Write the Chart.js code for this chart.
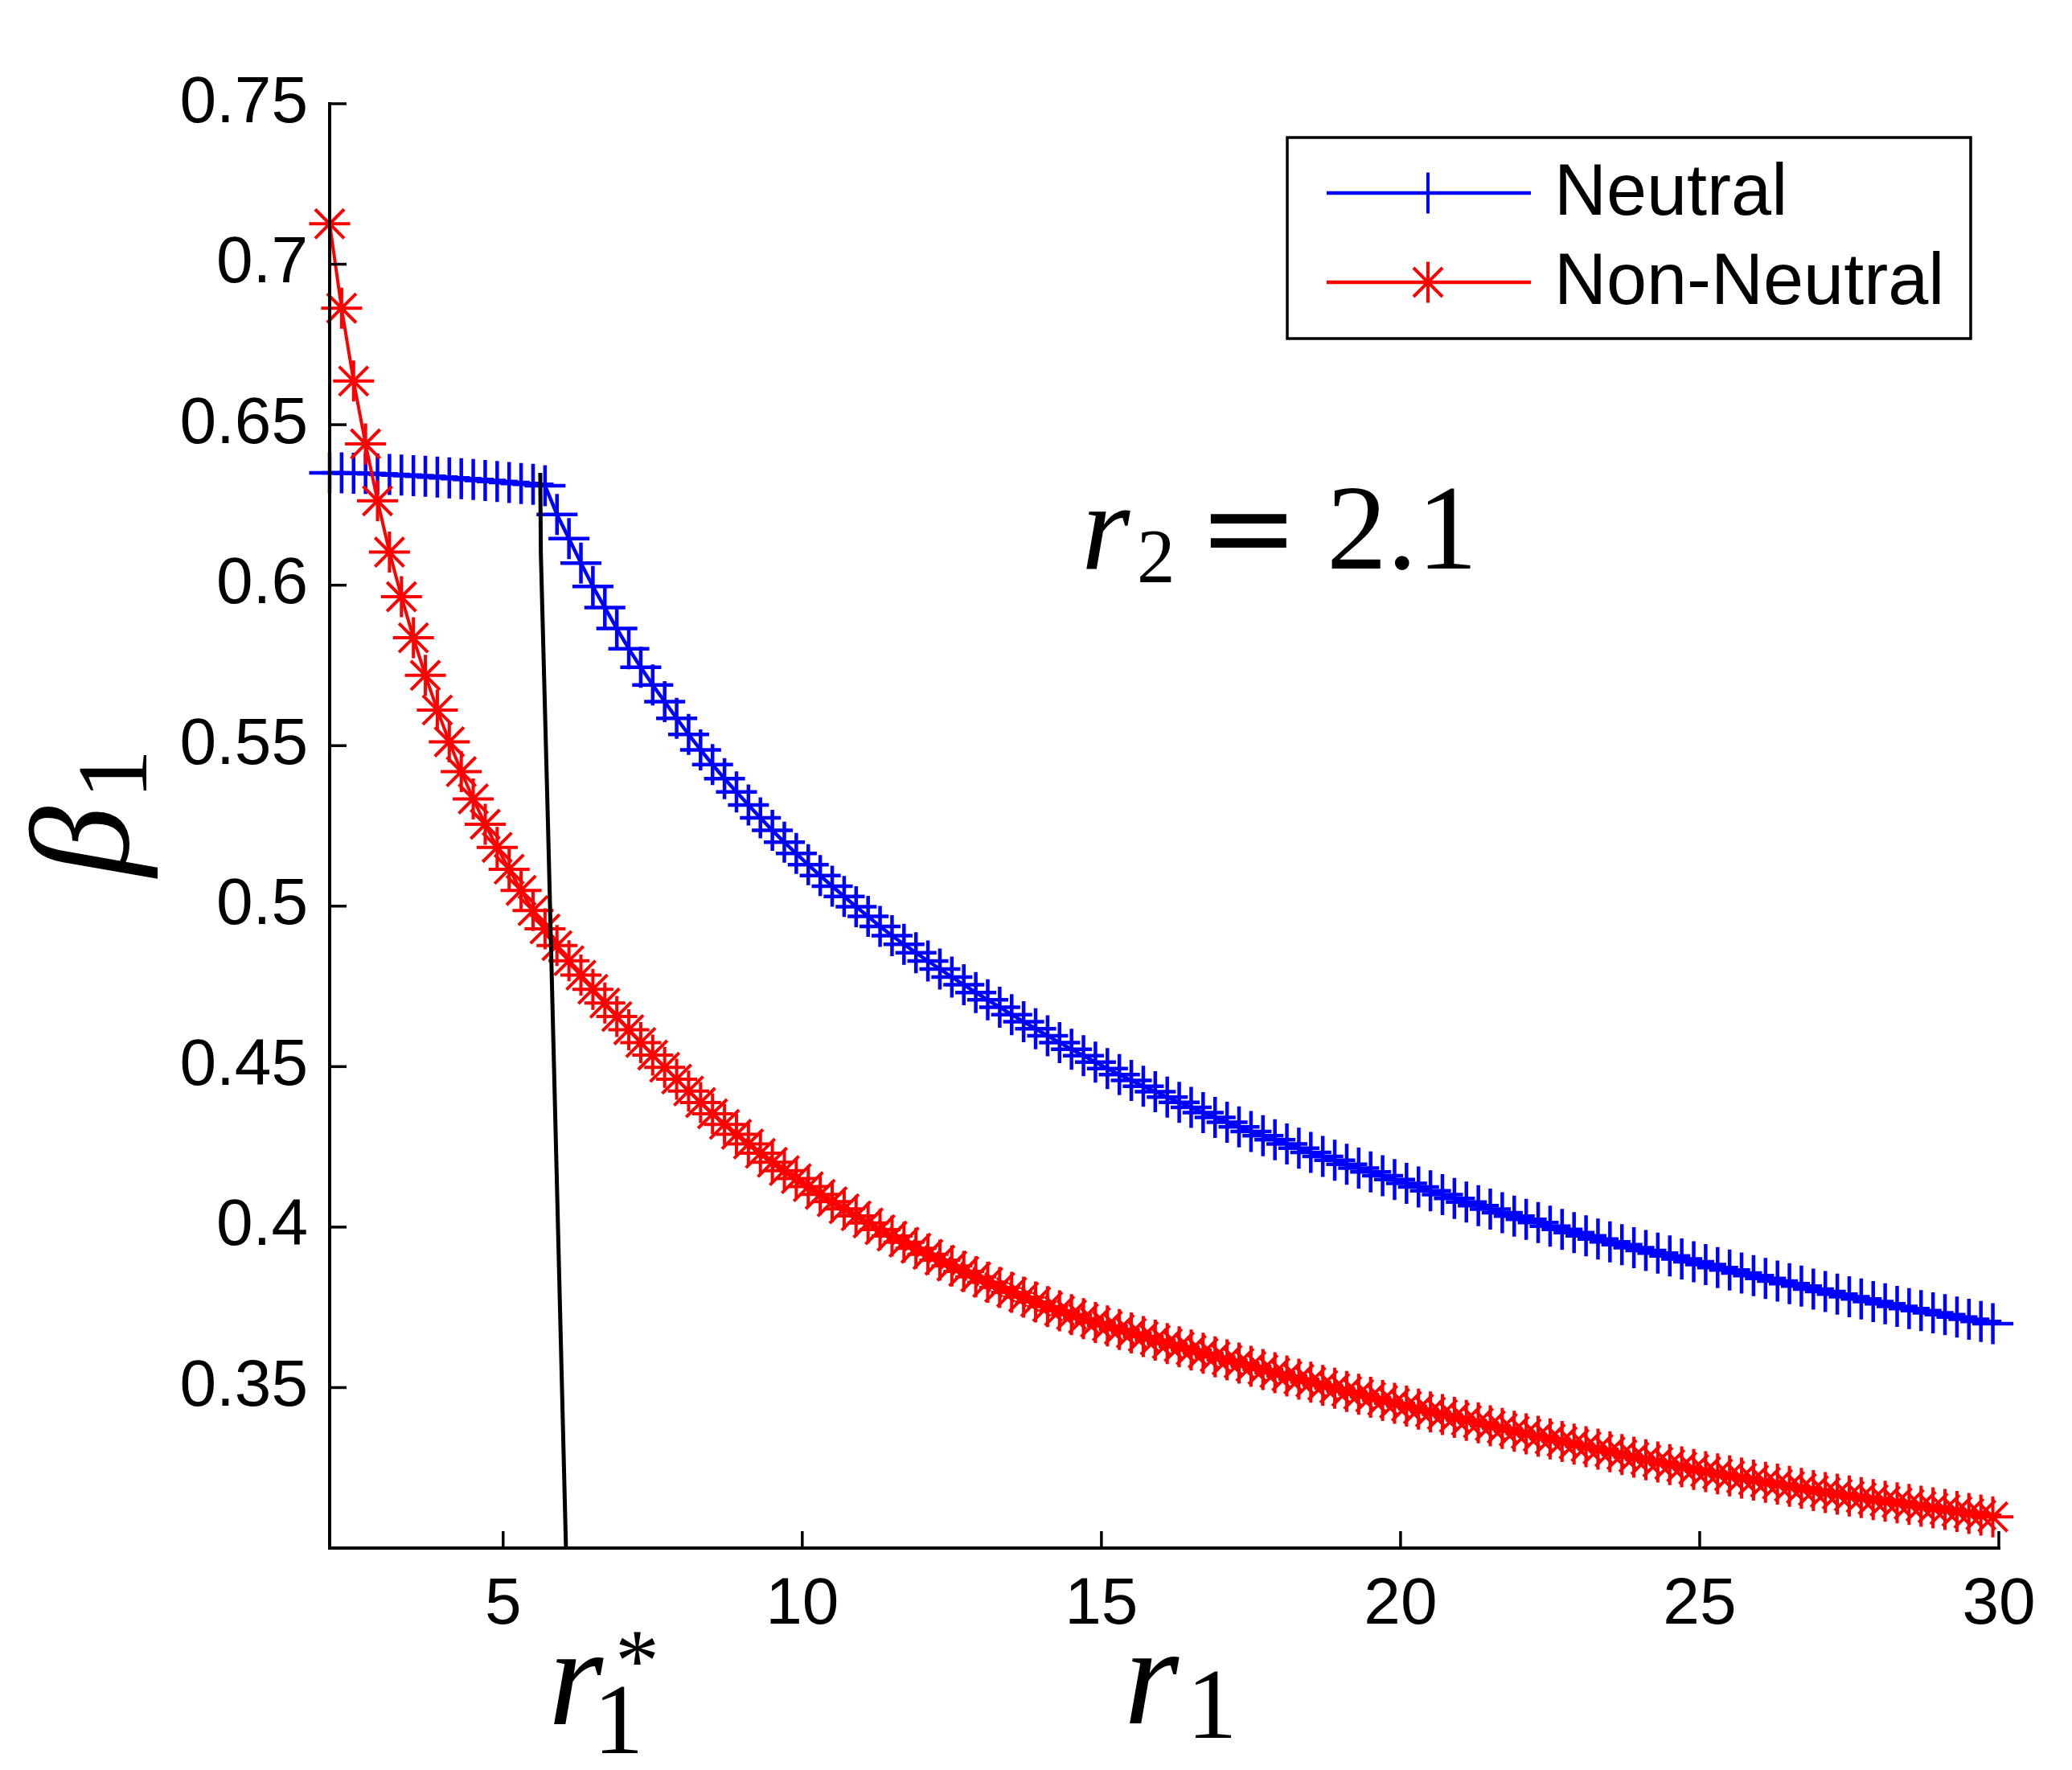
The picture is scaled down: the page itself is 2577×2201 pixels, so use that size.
<!DOCTYPE html>
<html>
<head>
<meta charset="utf-8">
<title>beta_1 vs r_1</title>
<script src="https://cdn.jsdelivr.net/npm/chart.js@4.4.1/dist/chart.umd.min.js"></script>
<style>
  html, body { margin: 0; padding: 0; background: #fff; }
  #wrap { width: 2577px; height: 2201px; }
</style>
</head>
<body>
<div id="wrap"><canvas id="betaChart" width="2577" height="2201"></canvas></div>
<script>
// r1 sample points (shared by both series)
const R1_VALUES = [
  2.1, 2.3, 2.5, 2.7, 2.9, 3.1, 3.3, 3.5, 3.7, 3.9,
  4.1, 4.3, 4.5, 4.7, 4.9, 5.1, 5.3, 5.5, 5.7, 5.9,
  6.1, 6.3, 6.5, 6.7, 6.9, 7.1, 7.3, 7.5, 7.7, 7.9,
  8.1, 8.3, 8.5, 8.7, 8.9, 9.1, 9.3, 9.5, 9.7, 9.9,
  10.1, 10.3, 10.5, 10.7, 10.9, 11.1, 11.3, 11.5, 11.7, 11.9,
  12.1, 12.3, 12.5, 12.7, 12.9, 13.1, 13.3, 13.5, 13.7, 13.9,
  14.1, 14.3, 14.5, 14.7, 14.9, 15.1, 15.3, 15.5, 15.7, 15.9,
  16.1, 16.3, 16.5, 16.7, 16.9, 17.1, 17.3, 17.5, 17.7, 17.9,
  18.1, 18.3, 18.5, 18.7, 18.9, 19.1, 19.3, 19.5, 19.7, 19.9,
  20.1, 20.3, 20.5, 20.7, 20.9, 21.1, 21.3, 21.5, 21.7, 21.9,
  22.1, 22.3, 22.5, 22.7, 22.9, 23.1, 23.3, 23.5, 23.7, 23.9,
  24.1, 24.3, 24.5, 24.7, 24.9, 25.1, 25.3, 25.5, 25.7, 25.9,
  26.1, 26.3, 26.5, 26.7, 26.9, 27.1, 27.3, 27.5, 27.7, 27.9,
  28.1, 28.3, 28.5, 28.7, 28.9, 29.1, 29.3, 29.5, 29.7, 29.9
];

const NEUTRAL_BETA = [
  0.6350, 0.6350, 0.6349, 0.6348, 0.6347, 0.6345, 0.6343, 0.6341, 0.6339, 0.6337,
  0.6334, 0.6332, 0.6329, 0.6326, 0.6323, 0.6320, 0.6317, 0.6314, 0.6310, 0.6220,
  0.6145, 0.6069, 0.5996, 0.5930, 0.5865, 0.5802, 0.5744, 0.5689, 0.5637, 0.5585,
  0.5535, 0.5487, 0.5441, 0.5397, 0.5356, 0.5315, 0.5275, 0.5236, 0.5199, 0.5164,
  0.5129, 0.5095, 0.5062, 0.5030, 0.4998, 0.4968, 0.4937, 0.4908, 0.4881, 0.4855,
  0.4829, 0.4804, 0.4779, 0.4755, 0.4731, 0.4708, 0.4685, 0.4662, 0.4640, 0.4618,
  0.4596, 0.4575, 0.4554, 0.4534, 0.4514, 0.4494, 0.4475, 0.4457, 0.4439, 0.4422,
  0.4405, 0.4389, 0.4373, 0.4357, 0.4342, 0.4327, 0.4312, 0.4298, 0.4285, 0.4272,
  0.4259, 0.4246, 0.4233, 0.4220, 0.4208, 0.4196, 0.4184, 0.4172, 0.4160, 0.4148,
  0.4136, 0.4125, 0.4113, 0.4101, 0.4089, 0.4078, 0.4067, 0.4056, 0.4045, 0.4034,
  0.4024, 0.4014, 0.4003, 0.3993, 0.3983, 0.3973, 0.3963, 0.3954, 0.3945, 0.3936,
  0.3927, 0.3919, 0.3910, 0.3901, 0.3892, 0.3883, 0.3874, 0.3866, 0.3857, 0.3849,
  0.3840, 0.3832, 0.3824, 0.3816, 0.3807, 0.3799, 0.3791, 0.3783, 0.3776, 0.3768,
  0.3761, 0.3753, 0.3746, 0.3740, 0.3733, 0.3727, 0.3720, 0.3713, 0.3706, 0.3699
];

const NON_NEUTRAL_BETA = [
  0.7126, 0.6863, 0.6636, 0.6440, 0.6263, 0.6103, 0.5964, 0.5836, 0.5719, 0.5611,
  0.5512, 0.5419, 0.5334, 0.5255, 0.5183, 0.5115, 0.5049, 0.4986, 0.4929, 0.4877,
  0.4830, 0.4785, 0.4741, 0.4698, 0.4656, 0.4615, 0.4575, 0.4536, 0.4498, 0.4461,
  0.4424, 0.4388, 0.4353, 0.4320, 0.4289, 0.4259, 0.4230, 0.4202, 0.4176, 0.4151,
  0.4126, 0.4102, 0.4079, 0.4057, 0.4035, 0.4013, 0.3992, 0.3972, 0.3953, 0.3934,
  0.3915, 0.3897, 0.3879, 0.3862, 0.3845, 0.3828, 0.3812, 0.3797, 0.3782, 0.3767,
  0.3752, 0.3739, 0.3727, 0.3715, 0.3703, 0.3692, 0.3681, 0.3670, 0.3659, 0.3648,
  0.3637, 0.3627, 0.3617, 0.3607, 0.3596, 0.3586, 0.3576, 0.3566, 0.3556, 0.3546,
  0.3536, 0.3526, 0.3517, 0.3507, 0.3498, 0.3488, 0.3479, 0.3470, 0.3460, 0.3451,
  0.3442, 0.3433, 0.3424, 0.3416, 0.3407, 0.3398, 0.3390, 0.3381, 0.3373, 0.3364,
  0.3356, 0.3348, 0.3340, 0.3332, 0.3324, 0.3316, 0.3308, 0.3300, 0.3291, 0.3283,
  0.3275, 0.3268, 0.3260, 0.3253, 0.3245, 0.3238, 0.3231, 0.3225, 0.3218, 0.3212,
  0.3205, 0.3199, 0.3192, 0.3186, 0.3179, 0.3173, 0.3168, 0.3162, 0.3157, 0.3151,
  0.3146, 0.3141, 0.3136, 0.3130, 0.3125, 0.3120, 0.3114, 0.3108, 0.3103, 0.3097
];

// black boundary line through r1*
const R1_STAR_X = [5.62, 5.63, 5.75, 6.05];
const R1_STAR_Y = [0.635, 0.61, 0.525, 0.30];

const X_TICKS = [5, 10, 15, 20, 25, 30];
const Y_TICKS = [0.35, 0.4, 0.45, 0.5, 0.55, 0.6, 0.65, 0.7, 0.75];
const SERIES_NAMES = ['Neutral', 'Non-Neutral'];

const BLUE = '#0000ff';
const RED = '#ff0000';
const TICK_FONT = '"Liberation Sans", Arial, Helvetica, sans-serif';
const MATH_FONT = '"Liberation Serif", "Times New Roman", serif';

// figure geometry (canvas px)
const CANVAS_H = 2201;
const AXIS_LEFT = 410;
const AXIS_BOTTOM = 1925;
const TICK_LEN = 21;

function toPoints(xs, ys) {
  return xs.map((x, i) => ({ x, y: ys[i] }));
}

function strokeMarker(ctx, style, x, y, r) {
  ctx.beginPath();
  ctx.moveTo(x - r, y); ctx.lineTo(x + r, y);
  ctx.moveTo(x, y - r); ctx.lineTo(x, y + r);
  if (style === 'star') {
    const d = r * Math.SQRT1_2;
    ctx.moveTo(x - d, y - d); ctx.lineTo(x + d, y + d);
    ctx.moveTo(x - d, y + d); ctx.lineTo(x + d, y - d);
  }
  ctx.stroke();
}

function drawLegend(ctx) {
  const box = { x: 1601, y: 171, w: 850, h: 250 };
  ctx.lineWidth = 3.5;
  ctx.strokeStyle = '#000';
  ctx.strokeRect(box.x, box.y, box.w, box.h);

  const rows = [
    { name: SERIES_NAMES[0], color: BLUE, style: 'cross', y: 240 },
    { name: SERIES_NAMES[1], color: RED, style: 'star', y: 351 },
  ];
  rows.forEach((row) => {
    ctx.strokeStyle = row.color;
    ctx.lineWidth = 4.5;
    ctx.beginPath();
    ctx.moveTo(1650, row.y);
    ctx.lineTo(1904, row.y);
    ctx.stroke();
    ctx.lineWidth = 4;
    strokeMarker(ctx, row.style, 1776, row.y, 25.5);

    ctx.fillStyle = '#000';
    ctx.font = `90px ${TICK_FONT}`;
    ctx.textAlign = 'left';
    ctx.textBaseline = 'middle';
    ctx.fillText(row.name, 1933, row.y + 2);
  });
}

function drawMathLabels(ctx) {
  ctx.fillStyle = '#000';
  ctx.textBaseline = 'alphabetic';
  ctx.textAlign = 'left';

  // y label: beta_1, rotated
  ctx.save();
  ctx.translate(159, 1090);
  ctx.rotate(-Math.PI / 2);
  ctx.font = `italic 175px ${MATH_FONT}`;
  ctx.fillText('β', 0, 0);
  ctx.font = `125px ${MATH_FONT}`;
  ctx.fillText('1', 96, 23);
  ctx.restore();

  // x label: r_1
  ctx.font = `italic 175px ${MATH_FONT}`;
  ctx.fillText('r', 1398, 2143);
  ctx.font = `125px ${MATH_FONT}`;
  ctx.fillText('1', 1476, 2161);

  // r_1^*
  ctx.font = `italic 175px ${MATH_FONT}`;
  ctx.fillText('r', 682, 2144);
  ctx.font = `125px ${MATH_FONT}`;
  ctx.fillText('1', 738, 2180);
  ctx.font = `110px ${MATH_FONT}`;
  ctx.fillText('*', 765, 2102);

  // annotation r_2 = 2.1
  ctx.font = `italic 155px ${MATH_FONT}`;
  ctx.fillText('r', 1345, 707);
  ctx.font = `95px ${MATH_FONT}`;
  ctx.fillText('2', 1414, 724);
  ctx.font = `150px "DejaVu Serif", ${MATH_FONT}`;
  ctx.fillText('=', 1490, 707);
  ctx.font = `150px ${MATH_FONT}`;
  ctx.fillText('2.1', 1650, 707);
}

const decorPlugin = {
  id: 'figureDecor',
  afterDraw(chart) {
    const { ctx, chartArea, scales } = chart;
    ctx.save();
    ctx.strokeStyle = '#000';
    ctx.lineCap = 'square';

    // axes (left + bottom only)
    ctx.lineWidth = 4;
    ctx.beginPath();
    ctx.moveTo(chartArea.left, chartArea.top);
    ctx.lineTo(chartArea.left, chartArea.bottom);
    ctx.lineTo(chartArea.right, chartArea.bottom);
    ctx.stroke();

    // inward tick marks
    ctx.lineCap = 'butt';
    ctx.lineWidth = 3.5;
    X_TICKS.forEach((v) => {
      const px = scales.x.getPixelForValue(v);
      ctx.beginPath();
      ctx.moveTo(px, chartArea.bottom);
      ctx.lineTo(px, chartArea.bottom - TICK_LEN);
      ctx.stroke();
    });
    Y_TICKS.forEach((v) => {
      const py = scales.y.getPixelForValue(v);
      ctx.beginPath();
      ctx.moveTo(chartArea.left, py);
      ctx.lineTo(chartArea.left + TICK_LEN, py);
      ctx.stroke();
    });

    drawLegend(ctx);
    drawMathLabels(ctx);
    ctx.restore();
  },
};

function renderChart() {
  const canvas = document.getElementById('betaChart');
  if (!canvas || typeof Chart === 'undefined') {
    return;
  }

  new Chart(canvas.getContext('2d'), {
    type: 'scatter',
    data: {
      datasets: [
        {
          label: SERIES_NAMES[0],
          data: toPoints(R1_VALUES, NEUTRAL_BETA),
          showLine: true,
          borderColor: BLUE,
          borderWidth: 4.5,
          pointStyle: 'cross',
          pointRadius: 25.5,
          pointBorderWidth: 4.5,
          pointBorderColor: BLUE,
          pointBackgroundColor: BLUE,
          clip: false,
          order: 3,
        },
        {
          label: SERIES_NAMES[1],
          data: toPoints(R1_VALUES, NON_NEUTRAL_BETA),
          showLine: true,
          borderColor: RED,
          borderWidth: 4,
          pointStyle: 'star',
          pointRadius: 25.5,
          pointBorderWidth: 4,
          pointBorderColor: RED,
          pointBackgroundColor: RED,
          clip: false,
          order: 2,
        },
        {
          label: 'r1*',
          data: toPoints(R1_STAR_X, R1_STAR_Y),
          showLine: true,
          borderColor: '#000',
          borderWidth: 5,
          pointRadius: 0,
          clip: false,
          order: 1,
        },
      ],
    },
    options: {
      responsive: false,
      devicePixelRatio: 1,
      animation: false,
      events: [],
      layout: {
        padding: { left: 0, top: 129, right: 91, bottom: 0 },
      },
      plugins: {
        legend: { display: false },
        tooltip: { enabled: false },
      },
      scales: {
        x: {
          type: 'linear',
          min: 2.1,
          max: 30,
          afterBuildTicks: (s) => { s.ticks = X_TICKS.map((v) => ({ value: v })); },
          afterFit: (s) => { s.height = CANVAS_H - AXIS_BOTTOM; },
          grid: { display: false, drawTicks: false },
          border: { display: false },
          ticks: {
            color: '#000',
            font: { family: TICK_FONT, size: 82 },
            padding: 22,
            maxRotation: 0,
            autoSkip: false,
            callback: (v) => String(v),
          },
        },
        y: {
          type: 'linear',
          min: 0.3,
          max: 0.75,
          afterBuildTicks: (s) => { s.ticks = Y_TICKS.map((v) => ({ value: v })); },
          afterFit: (s) => { s.width = AXIS_LEFT; },
          grid: { display: false, drawTicks: false },
          border: { display: false },
          ticks: {
            color: '#000',
            font: { family: TICK_FONT, size: 82 },
            padding: 27,
            autoSkip: false,
            callback: (v) => String(v),
          },
        },
      },
    },
    plugins: [decorPlugin],
  });
}

renderChart();
</script>
</body>
</html>
